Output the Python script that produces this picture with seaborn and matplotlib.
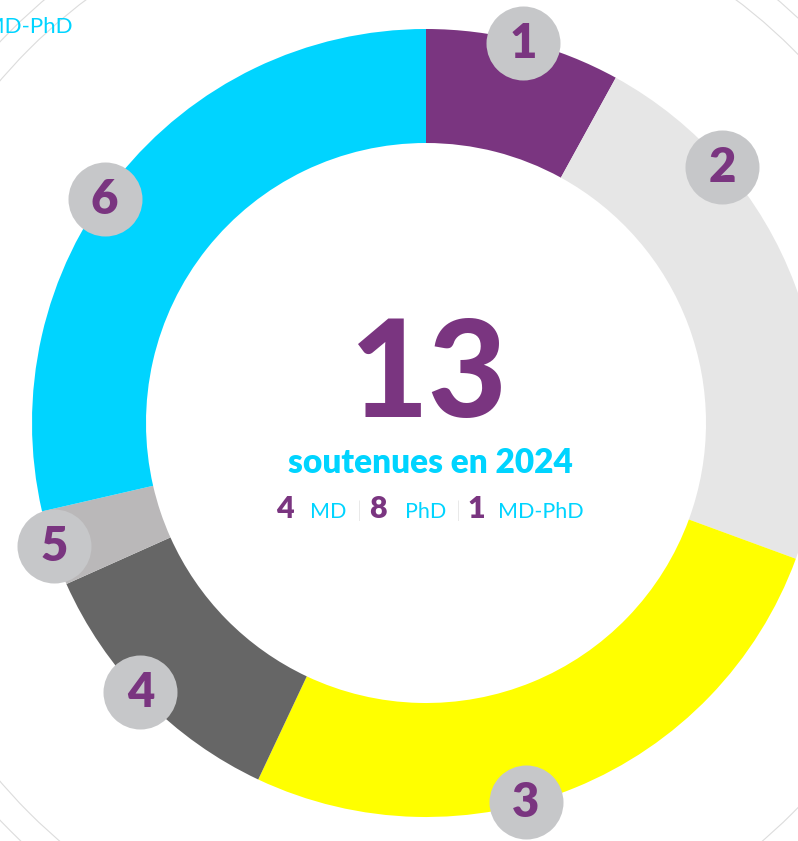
import numpy as np
import pandas as pd
import matplotlib
matplotlib.use("Agg")
import matplotlib.pyplot as plt
import seaborn as sns

# ---------------- data ----------------
categories = ["1", "2", "3", "4", "5", "6"]
shares = [8.0, 22.6, 26.4, 11.3, 3.1, 28.6]          # share of the ring (%)
badge_pos = [0.50, 0.25, 0.58, 0.53, 0.52, 0.465]     # where the badge sits inside each segment
seg_colors = ["#7a3580", "#e6e6e6", "#ffff00", "#666666", "#bab8b9", "#00d4ff"]
total = "13"
subtitle = "soutenues en 2024"
breakdown_counts = ["4", "8", "1"]
breakdown_labels = ["MD", "PhD", "MD-PhD"]

PURPLE = "#7a3580"
CYAN = "#00d4ff"
BADGE = "#c6c7c9"

W, H = 798, 841
sns.set_theme(style="white")
plt.rcParams["font.family"] = ["Lato", "DejaVu Sans"]

fig = plt.figure(figsize=(W / 100, H / 100), dpi=100)
ax = fig.add_axes([0, 0, 1, 1])

cx, cy = 426, H - 423
R_out, ring_w = 394, 114

# decorative background arcs
for r in (540, 566):
    ax.add_patch(plt.Circle((411, H - 431), r, fill=False, ec="#dcdcdc", lw=0.8, zorder=0))

# donut
ax.pie(shares, colors=seg_colors, startangle=90, counterclock=False,
       radius=R_out, center=(cx, cy),
       wedgeprops=dict(width=ring_w, linewidth=0, antialiased=True))

# badge positions from the data
cum = np.concatenate([[0], np.cumsum(shares)]) / np.sum(shares) * 360.0
ang = cum[:-1] + np.array(badge_pos) * (cum[1:] - cum[:-1])   # clockwise from top
theta = np.deg2rad(90 - ang)
R_badge = R_out - 2
bdf = pd.DataFrame({"x": cx + R_badge * np.cos(theta),
                    "y": cy + R_badge * np.sin(theta),
                    "label": categories})
diam_pt = 74 * 72 / 100
sns.scatterplot(data=bdf, x="x", y="y", s=diam_pt ** 2, color=BADGE,
                linewidth=0, zorder=5, ax=ax, legend=False)
for _, row in bdf.iterrows():
    ax.text(row.x, row.y - 1, row.label, ha="center", va="center",
            fontsize=34, fontweight="heavy", color=PURPLE, zorder=6)

# center texts
ax.text(429, H - 417, total, ha="center", va="baseline", fontsize=98,
        fontweight="black", color=PURPLE, zorder=6)
ax.text(430, H - 473, subtitle, ha="center", va="baseline", fontsize=24,
        fontweight="heavy", color=CYAN, zorder=6)

num_x = [276, 369, 467]
lab_x = [310, 405, 498]
for nx, lx, n, l in zip(num_x, lab_x, breakdown_counts, breakdown_labels):
    ax.text(nx, H - 518, n, ha="left", va="baseline", fontsize=22,
            fontweight="heavy", color=PURPLE, zorder=6)
    ax.text(lx, H - 518, l, ha="left", va="baseline", fontsize=15.5,
            fontweight="normal", color=CYAN, zorder=6)
for sx in (359, 458):
    ax.text(sx, H - 517, "|", ha="center", va="baseline", fontsize=15,
            fontweight="light", color="#aaaaaa", zorder=6)

# cut-off legend fragment at top-left (as in the reference)
ax.text(73, H - 33, "MD-PhD", ha="right", va="baseline", fontsize=16,
        color=CYAN, zorder=6)

ax.set_xlim(0, W)
ax.set_ylim(0, H)
ax.set_aspect("equal")
ax.axis("off")
fig.savefig("out.png", dpi=100)
